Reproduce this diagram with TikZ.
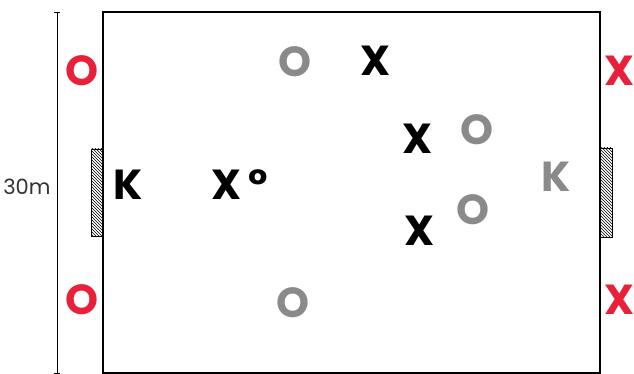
\documentclass[tikz,border=0pt]{standalone}
\usepackage{fontspec}
\setmainfont{Poppins}
\usetikzlibrary{patterns}

\definecolor{teamred}{HTML}{E8203A}
\definecolor{teamgray}{HTML}{8A8A8A}

\tikzset{
  player/.style={inner sep=0pt, font=\fontsize{42}{42}\selectfont\bfseries},
  attack/.style={player, text=black},
  defend/.style={player, text=teamgray},
  sub/.style={player, text=teamred},
  goal/.style={draw=black, line width=0.8pt, pattern=north west lines}
}

\begin{document}
\begin{tikzpicture}[x=1pt, y=-1pt]
\useasboundingbox (0,0) rectangle (634,374);

% pitch
\draw[line width=1.6pt] (103,12) rectangle (600,373);

% goals
\draw[goal] (91,149) rectangle (103,236);
\draw[goal] (600,148) rectangle (612,237);

% width of the pitch
\coordinate (dimtop) at (57,12);
\coordinate (dimbot) at (57,373);
\draw[line width=0.9pt] (dimtop) -- (dimbot);
\draw[line width=0.9pt] ([xshift=-3pt]dimtop) -- ([xshift=3pt]dimtop);
\draw[line width=0.9pt] ([xshift=-3pt]dimbot) -- ([xshift=3pt]dimbot);
\node[anchor=east, text=black!80, font=\fontsize{21}{21}\selectfont] (width) at (54,187) {30m};

% substitutes
\node[sub] (redo1) at (82,71) {O};
\node[sub] (redo2) at (82,300) {O};
\node[sub] (redx1) at (620,71) {X};
\node[sub] (redx2) at (620,300) {X};

% defenders
\node[defend] (def1) at (295,62) {O};
\node[defend] (def2) at (477,130) {O};
\node[defend] (def3) at (473,210) {O};
\node[defend] (def4) at (293,303) {O};
\node[defend] (keeper2) at (556,177) {K};

% attackers
\node[attack] (att1) at (376,61) {X};
\node[attack] (att2) at (418,139) {X};
\node[attack] (att3) at (420,231) {X};
\node[attack] (keeper1) at (128,185) {K};
\node[attack] (ball) at (240,185) {X\,°};

\end{tikzpicture}
\end{document}
